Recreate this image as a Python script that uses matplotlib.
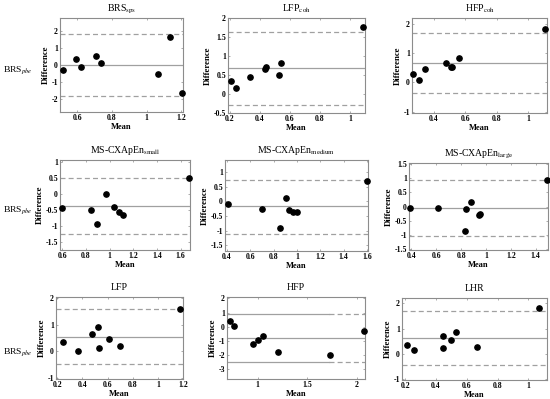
import numpy as np
import matplotlib.pyplot as plt

plt.rcParams['font.family'] = ['Liberation Serif', 'DejaVu Serif']
plt.rcParams['mathtext.fontset'] = 'stix'

W, H = 550, 399

titles = [r'BRS$_{\mathrm{sps}}$', r'LFP$_{\mathrm{coh}}$', r'HFP$_{\mathrm{coh}}$',
          r'MS-CXApEn$_{\mathrm{small}}$', r'MS-CXApEn$_{\mathrm{medium}}$', r'MS-CXApEn$_{\mathrm{large}}$',
          'LFP', 'HFP', 'LHR']

# mean of the two methods / difference
means = [
    [0.515, 0.592, 0.621, 0.706, 0.739, 1.065, 1.135, 1.206],
    [0.209, 0.244, 0.333, 0.433, 0.444, 0.527, 0.540, 1.090],
    [0.266, 0.307, 0.343, 0.479, 0.508, 0.517, 0.561, 1.110],
    [0.600, 0.842, 0.892, 0.969, 1.033, 1.078, 1.114, 1.670],
    [0.406, 0.700, 0.858, 0.904, 0.935, 0.970, 1.000, 1.600],
    [0.389, 0.615, 0.838, 0.882, 0.835, 0.948, 0.956, 1.490],
    [0.242, 0.366, 0.478, 0.525, 0.533, 0.609, 0.695, 1.180],
    [0.720, 0.760, 0.950, 1.003, 1.057, 1.200, 1.727, 2.070],
    [0.213, 0.260, 0.443, 0.445, 0.499, 0.529, 0.669, 1.065],
]
diffs = [
    [-0.32, 0.38, -0.10, 0.51, 0.10, -0.51, 1.64, -1.66],
    [0.33, 0.17, 0.45, 0.67, 0.71, 0.49, 0.82, 1.75],
    [0.27, 0.09, 0.47, 0.67, 0.54, 0.53, 0.82, 1.82],
    [-0.43, -0.49, -0.94, -0.01, -0.42, -0.57, -0.66, 0.48],
    [-0.10, -0.25, -0.92, 0.12, -0.31, -0.37, -0.37, 0.71],
    [-0.06, -0.07, -0.10, 0.17, -0.87, -0.32, -0.26, 0.94],
    [0.33, 0.00, 0.65, 0.92, 0.13, 0.45, 0.20, 1.60],
    [0.42, 0.05, -1.21, -0.93, -0.63, -1.81, -2.02, -0.30],
    [0.35, 0.17, 0.69, 0.25, 0.56, 0.88, 0.28, 1.82],
]
bias = [0.0, 0.675, 0.66, -0.38, -0.17, -0.06, 0.54, -0.79, 0.62]
upper = [1.86, 1.62, 1.68, 0.48, 0.74, 0.94, 1.59, 0.88, 1.67]
lower = [-1.86, -0.28, -0.36, -1.24, -1.11, -1.05, -0.49, -2.51, -0.42]

xlims = [(0.50, 1.21), (0.19, 1.10), (0.26, 1.12), (0.58, 1.68), (0.383, 1.61),
         (0.38, 1.50), (0.19, 1.19), (0.69, 2.08), (0.18, 1.12)]
ylims = [(-2.8, 2.8), (-0.5, 2.0), (-1.05, 2.2), (-1.75, 1.05), (-1.7, 1.42),
         (-1.55, 1.55), (-1.05, 2.05), (-3.7, 2.1), (-1.02, 2.2)]
xticks = [[0.6, 0.8, 1, 1.2], [0.2, 0.4, 0.6, 0.8, 1], [0.4, 0.6, 0.8, 1],
          [0.6, 0.8, 1, 1.2, 1.4, 1.6], [0.4, 0.6, 0.8, 1, 1.2, 1.4, 1.6],
          [0.4, 0.6, 0.8, 1, 1.2, 1.4], [0.2, 0.4, 0.6, 0.8, 1, 1.2], [1, 1.5, 2],
          [0.2, 0.4, 0.6, 0.8, 1]]
yticks = [[-2, -1, 0, 1, 2], [-0.5, 0, 0.5, 1, 1.5, 2], [-1, 0, 1, 2],
          [-1.5, -1, -0.5, 0, 0.5, 1], [-1.5, -1, -0.5, 0, 0.5, 1],
          [-1.5, -1, -0.5, 0, 0.5, 1, 1.5], [-1, 0, 1, 2], [-3, -2, -1, 0, 1, 2],
          [-1, 0, 1, 2]]

# axes boxes in pixels: left, right, top, bottom
boxes = [(60, 183, 18, 112), (228, 365, 18, 113), (412, 547, 18, 113),
         (60, 190, 160, 250), (225, 368, 160, 251), (409, 548, 163, 250),
         (56, 183, 297, 379), (227, 365, 297, 379), (402, 547, 298, 380)]

fig = plt.figure(figsize=(5.5, 3.99), dpi=100)
grey = '#8c8c8c'
line_c = '#a0a0a0'
dash = (0, (4, 2.5))

for i in range(9):
    l, r, t, b = boxes[i]
    ax = fig.add_axes([l / W, 1 - b / H, (r - l) / W, (b - t) / H])
    ax.axhline(bias[i], color=line_c, lw=0.9)
    if i == 7:
        x0, x1 = xlims[i]
        for lim in (upper[i], lower[i]):
            ax.plot([x0, 1.72], [lim, lim], color=line_c, lw=0.9)
            ax.plot([1.72, x1], [lim, lim], color=line_c, lw=0.9, ls=dash)
    else:
        ax.axhline(upper[i], color=line_c, lw=0.9, ls=dash)
        ax.axhline(lower[i], color=line_c, lw=0.9, ls=dash)
    ax.plot(means[i], diffs[i], 'o', color='black', ms=3.8, clip_on=False, zorder=5)
    ax.set_xlim(xlims[i])
    ax.set_ylim(ylims[i])
    ax.set_xticks(xticks[i])
    ax.set_yticks(yticks[i])
    ax.set_xticklabels(['%g' % v for v in xticks[i]], fontweight='bold', fontsize=5.6)
    ax.set_yticklabels(['%g' % v for v in yticks[i]], fontweight='bold', fontsize=5.6)
    ax.tick_params(direction='in', length=1.5, width=0.5, color=grey, pad=1.5,
                   top=True, right=True)
    for sp in ax.spines.values():
        sp.set_color(grey)
        sp.set_linewidth(0.8)
    ax.set_xlabel('Mean', fontweight='bold', fontsize=6, labelpad=0.5)
    ax.set_ylabel('Difference', fontweight='bold', fontsize=6.3, labelpad=1)
    ax.set_title(titles[i], fontsize=7, pad=5)

for yc in (70, 210, 352):
    fig.text(3 / W, 1 - yc / H, r'BRS$_{pbe}$', fontsize=6.8, va='center', ha='left')

fig.savefig('out.png', dpi=100)
